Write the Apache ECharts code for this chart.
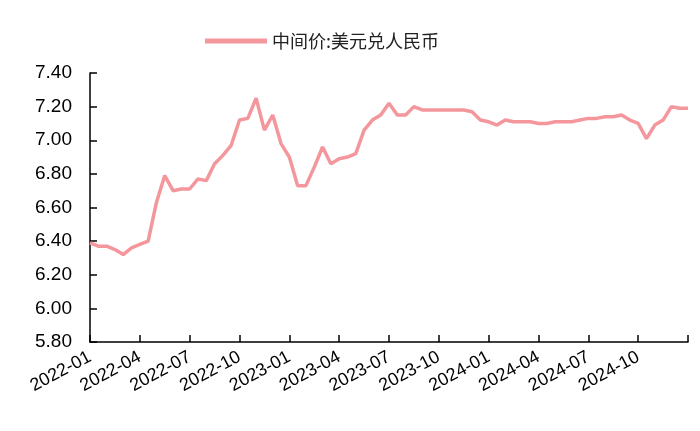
<!DOCTYPE html>
<html><head><meta charset="utf-8">
<script src="https://cdn.jsdelivr.net/npm/echarts@6/dist/echarts.min.js"></script>
<style>html,body{margin:0;padding:0;background:#fff}#c{width:700px;height:431px}</style>
</head><body><div id="c"></div>
<script>
const seriesName = '中间价:美元兑人民币';
const dates = [];
for (let y = 2022; y <= 2024; y++) for (let m = 1; m <= 12; m++) {
  const mm = String(m).padStart(2, '0');
  dates.push(y + '-' + mm + '-01', y + '-' + mm + '-15');
}
dates.push('2025-01-01');
const values = [
6.39,6.37,6.37,6.35,6.32,6.36,6.38,6.40,6.63,6.79,6.70,6.71,
6.71,6.77,6.76,6.86,6.91,6.97,7.12,7.13,7.25,7.06,7.15,6.98,
6.90,6.73,6.73,6.84,6.96,6.86,6.89,6.90,6.92,7.06,7.12,7.15,
7.22,7.15,7.15,7.20,7.18,7.18,7.18,7.18,7.18,7.18,7.17,7.12,
7.11,7.09,7.12,7.11,7.11,7.11,7.10,7.10,7.11,7.11,7.11,7.12,
7.13,7.13,7.14,7.14,7.15,7.12,7.10,7.01,7.09,7.12,7.20,7.19,
7.19];
const chart = echarts.init(document.getElementById('c'));
chart.setOption({
  animation:false,
  legend:{top:27,left:200,itemWidth:62,itemHeight:5,itemGap:8,textStyle:{fontSize:18,color:'#222',fontFamily:'Noto Sans CJK SC'},
    data:[{name:seriesName,icon:'rect'}]},
  grid:{left:90,right:12,top:73,bottom:89},
  xAxis:{type:'category',data:dates,boundaryGap:false,
    axisLine:{lineStyle:{color:'#000',width:1.5}},
    axisTick:{inside:true,length:7,lineStyle:{color:'#000',width:1.5},interval:(i)=>i%6===0},
    axisLabel:{rotate:28,fontSize:18,color:'#000',fontFamily:'Liberation Sans',margin:14,
      interval:(i)=>i%6===0 && i<72,formatter:(v)=>v.slice(0,7)}},
  yAxis:{type:'value',min:5.8,max:7.4,interval:0.2,
    axisLine:{show:true,lineStyle:{color:'#000',width:1.5}},
    axisTick:{show:true,inside:true,length:7,lineStyle:{color:'#000',width:1.5}},
    splitLine:{show:false},
    axisLabel:{fontSize:19,color:'#000',fontFamily:'Liberation Sans',margin:18,formatter:(v)=>v.toFixed(2)}},
  series:[{name:seriesName,type:'line',data:values,showSymbol:false,
    lineStyle:{color:'#F4979D',width:3.5},itemStyle:{color:'#F4979D'}}]
});
</script></body></html>
